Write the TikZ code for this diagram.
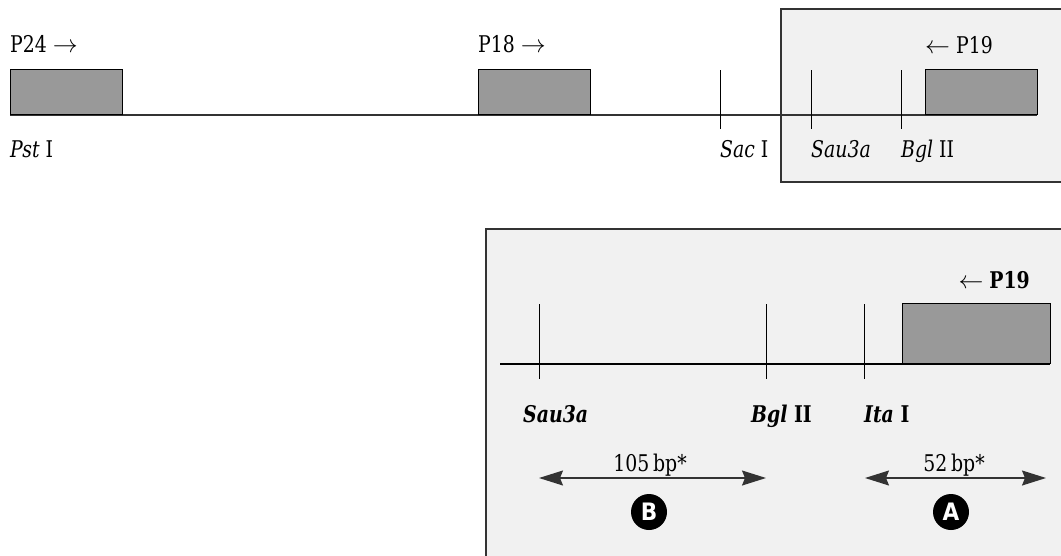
\documentclass[tikz,border=0pt]{standalone}
\usepackage{fontspec}
\setmainfont{DejaVu Serif}[FakeStretch=0.82]
\newfontfamily\circfont{DejaVu Sans}[FakeStretch=0.9]
\usetikzlibrary{arrows.meta}
\definecolor{panelgray}{HTML}{F1F1F1}
\definecolor{primergray}{HTML}{999999}
\definecolor{linegray}{HTML}{333333}
\begin{document}
\begin{tikzpicture}[x=1pt,y=-1pt,
  lab/.style={font=\fontsize{23}{27}\selectfont, inner sep=0pt, anchor=base west},
  labc/.style={lab, anchor=base},
  primer/.style={draw=black, fill=primergray, line width=1.2pt, anchor=south west, minimum width=112pt, minimum height=45pt, inner sep=0pt},
  panel/.style={draw=linegray, fill=panelgray, line width=1.5pt},
  dna/.style={draw=linegray, line width=1.5pt},
  site/.style={draw=black, line width=1pt},
  span/.style={{Stealth[length=24pt,width=15pt,inset=3pt]}-{Stealth[length=24pt,width=15pt,inset=3pt]}, line width=1.3pt, draw=linegray},
  tag/.style={circle, fill=black, text=white, minimum size=36pt, inner sep=0pt, font=\circfont\bfseries\fontsize{24}{24}\selectfont}
]
\useasboundingbox (0,0) rectangle (1061,555);
\begin{scope}
  \clip (0,0) rectangle (1061,555);
  \path[panel] (781,9) rectangle (1075,182);
  \path[panel] (486,229) rectangle (1075,575);
\end{scope}

% ---------- top map ----------
\coordinate (L0) at (10,115);
\coordinate (L1) at (1037,115);
\draw[dna] (L0) -- (L1);
\node[primer] (p24box) at (10,115) {};
\node[primer] (p18box) at (478,115) {};
\node[primer] (p19box) at (925,115) {};

\coordinate (sacT) at (720,70);  \coordinate (sacB) at (720,129);
\coordinate (sauT) at (811,70);  \coordinate (sauB) at (811,129);
\coordinate (bglT) at (901,70);  \coordinate (bglB) at (901,129);
\draw[site] (sacT) -- (sacB);
\draw[site] (sauT) -- (sauB);
\draw[site] (bglT) -- (bglB);

\node[lab] (p24) at (10,52) {P24 $\rightarrow$};
\node[lab] (p18) at (478,52) {P18 $\rightarrow$};
\node[lab] (p19) at (925,53) {$\leftarrow$ P19};

\node[lab] (pst) at (10,157) {\textit{Pst} I};
\node[lab] (sac) at (720,157) {\textit{Sac} I};
\node[lab] (sau) at (811,157) {\textit{Sau3a}};
\node[lab] (bgl) at (901,157) {\textit{Bgl} II};

% ---------- enlarged detail ----------
\coordinate (M0) at (500,364);
\coordinate (M1) at (1050,364);
\draw[dna, draw=black] (M0) -- (M1);
\node[primer, minimum width=148pt, minimum height=60pt] (p19bigbox) at (902,364) {};

\coordinate (s1T) at (539,304); \coordinate (s1B) at (539,379);
\coordinate (s2T) at (766,304); \coordinate (s2B) at (766,379);
\coordinate (s3T) at (864,304); \coordinate (s3B) at (864,379);
\draw[site] (s1T) -- (s1B);
\draw[site] (s2T) -- (s2B);
\draw[site] (s3T) -- (s3B);

\node[lab, anchor=base east] (p19big) at (1030,288) {$\leftarrow$ \textbf{P19}};

\node[lab] (sau2) at (523,422) {\textbf{\textit{Sau3a}}};
\node[lab] (bgl2) at (751,422) {\textbf{\textit{Bgl} II}};
\node[lab] (ita)  at (864,422) {\textbf{\textit{Ita} I}};

\coordinate (bS) at (539,478); \coordinate (bE) at (766,478);
\coordinate (aS) at (865,478); \coordinate (aE) at (1046,478);
\draw[span] (bS) -- (bE);
\draw[span] (aS) -- (aE);

\node[labc] (len105) at (650,471) {105\,bp*};
\node[labc] (len52) at (954,471) {52\,bp*};

\node[tag] (tagB) at (649,512) {B};
\node[tag] (tagA) at (951,512) {A};
\end{tikzpicture}
\end{document}
